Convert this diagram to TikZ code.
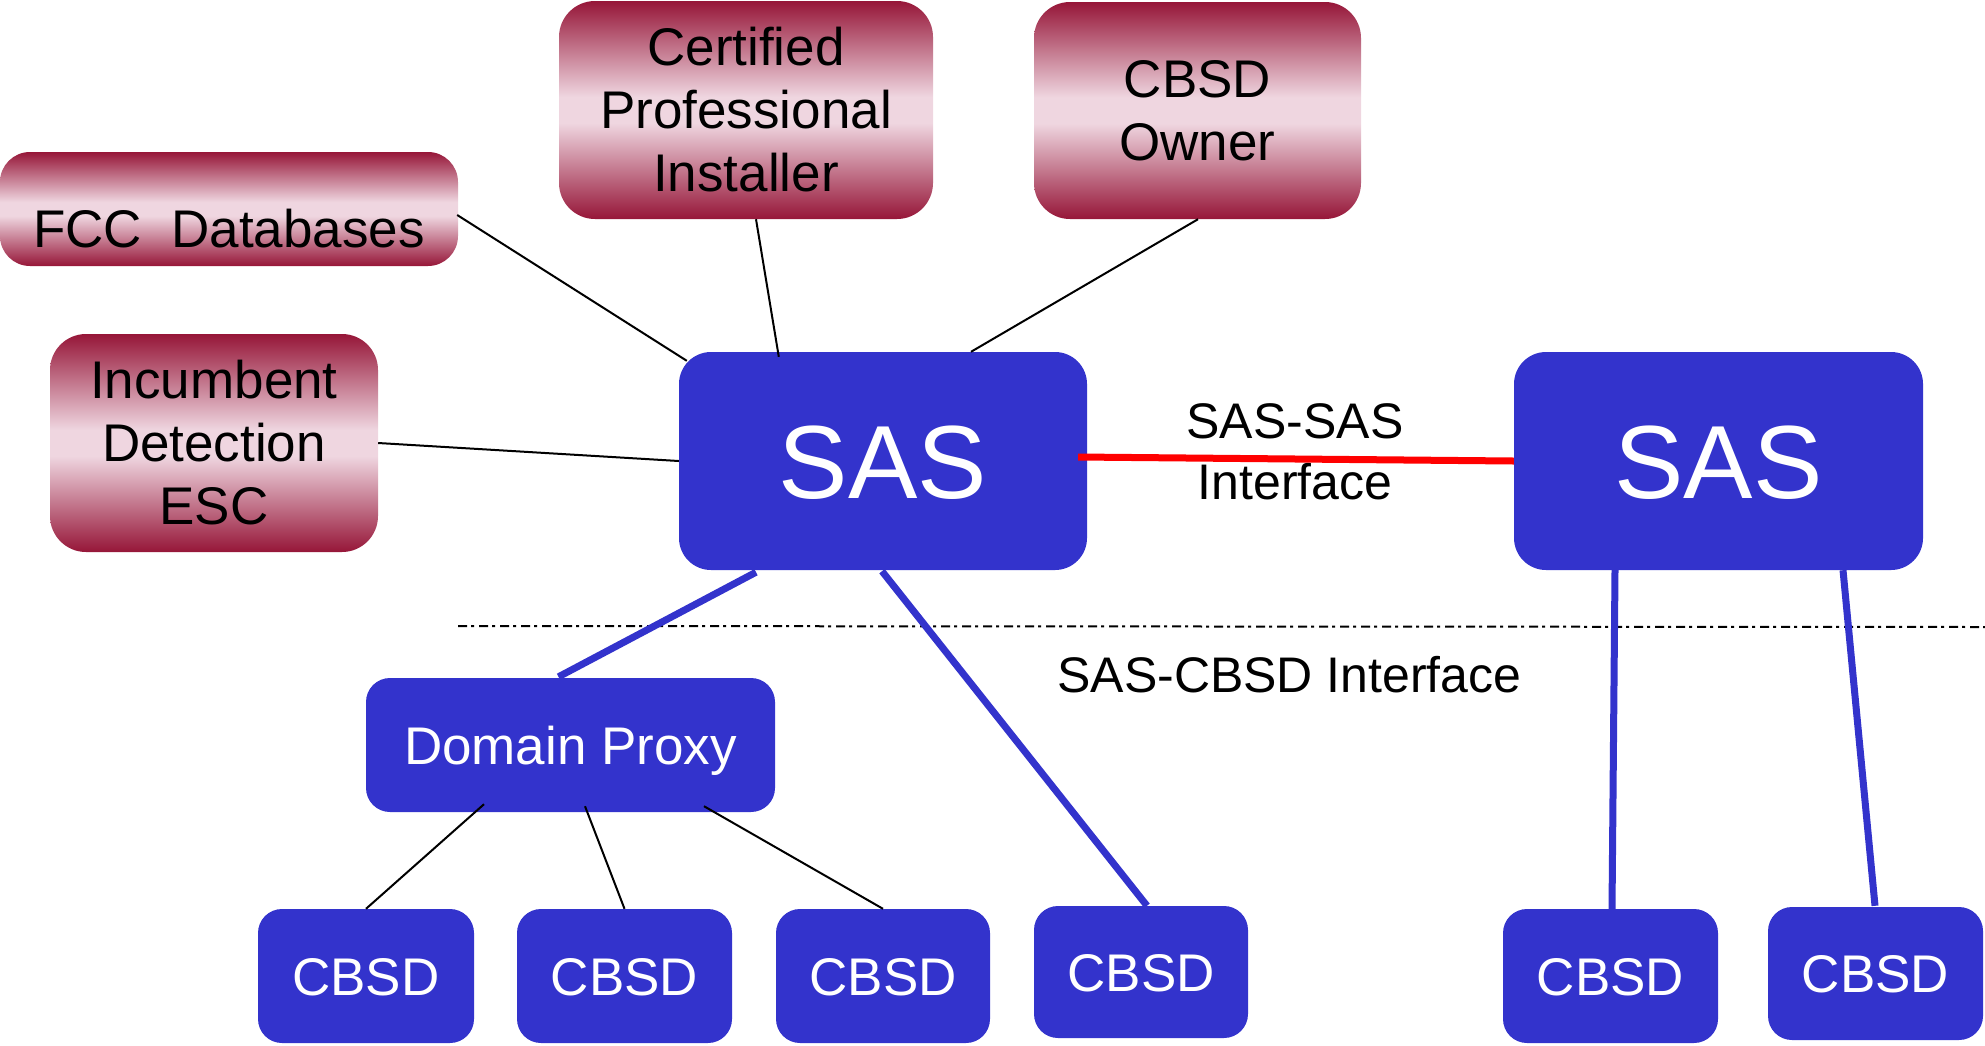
\documentclass[tikz,border=0pt]{standalone}
\usepackage{fontspec}
\setmainfont{Liberation Sans}
\usetikzlibrary{calc}
\definecolor{sasblue}{RGB}{51,51,204}
\definecolor{dkred}{RGB}{150,22,56}
\definecolor{ltpink}{RGB}{239,214,224}
\pgfdeclareverticalshading{redband}{100bp}{color(0bp)=(dkred); color(25bp)=(dkred); color(47bp)=(ltpink); color(53bp)=(ltpink); color(75bp)=(dkred); color(100bp)=(dkred)}
\tikzset{
  redbox/.style={shading=redband, rectangle, rounded corners=30pt, inner sep=0pt,
    align=center, text=black, font=\fontsize{53}{63}\selectfont},
  bluebox/.style={fill=sasblue, rectangle, rounded corners=24pt, inner sep=0pt,
    align=center, text=white, font=\fontsize{53}{63}\selectfont, text height=38pt, text depth=0pt},
  sasbox/.style={bluebox, rounded corners=32pt, font=\fontsize{104}{110}\selectfont, text height=75pt},
  thinlink/.style={draw=black, line width=2pt},
  bluelink/.style={draw=sasblue, line width=7pt},
  redlink/.style={draw=red, line width=7pt},
  divider/.style={draw=black, line width=2pt, dash pattern=on 9pt off 4pt on 3pt off 5pt},
  lbl/.style={inner sep=0pt, align=center, text=black, font=\fontsize{50}{61}\selectfont}
}
\begin{document}
\begin{tikzpicture}[x=1pt, y=-1pt]
\useasboundingbox (0,0) rectangle (1985,1045);
% upper boxes
\node[redbox, minimum width=458pt, minimum height=114pt, text height=76pt, text depth=0pt] (fcc) at (229,209) {FCC\ \ Databases};
\node[redbox, minimum width=374pt, minimum height=218pt, rounded corners=36pt] (cpi) at (746,110) {Certified\\Professional\\Installer};
\node[redbox, minimum width=327pt, minimum height=217pt, rounded corners=36pt] (owner) at (1197.5,110.5) {CBSD\\Owner};
\node[redbox, minimum width=328pt, minimum height=218pt, rounded corners=36pt] (esc) at (214,443) {Incumbent\\Detection\\ESC};
% SAS boxes
\node[sasbox, minimum width=408pt, minimum height=218pt] (sas1) at (883,461) {SAS};
\node[sasbox, minimum width=409pt, minimum height=218pt] (sas2) at (1718.5,461) {SAS};
% domain proxy and CBSDs
\node[bluebox, minimum width=409pt, minimum height=134pt] (dp) at (570.5,745) {Domain Proxy};
\node[bluebox, minimum width=216pt, minimum height=134pt] (c1) at (366,976) {CBSD};
\node[bluebox, minimum width=215pt, minimum height=134pt] (c2) at (624.5,976) {CBSD};
\node[bluebox, minimum width=214pt, minimum height=134pt] (c3) at (883,976) {CBSD};
\node[bluebox, minimum width=214pt, minimum height=132pt] (c4) at (1141,972) {CBSD};
\node[bluebox, minimum width=215pt, minimum height=134pt] (c5) at (1610.5,976) {CBSD};
\node[bluebox, minimum width=215pt, minimum height=133pt] (c6) at (1875.5,973.5) {CBSD};
% labels
\node[lbl] (sassas) at (1295,452) {SAS-SAS\\Interface};
\node[lbl] (sascbsd) at (1289.5,675) {SAS-CBSD Interface};
% divider
\coordinate (dl) at (458,626);
\coordinate (dr) at (1985,627);
\draw[divider] (dl) -- (dr);
% thin connectors
\draw[thinlink] ($(fcc.east)+(-1,6)$) -- ($(sas1.north west)+(8,9)$);
\draw[thinlink] ($(cpi.south)+(10,0)$) -- ($(sas1.north west)+(100,5)$);
\draw[thinlink] ($(owner.south)+(0.5,0)$) -- ($(sas1.north)+(88,0)$);
\draw[thinlink] (esc.east) -- (sas1.west);
\draw[thinlink] ($(dp.south)+(-86.5,-8)$) -- (c1.north);
\draw[thinlink] ($(dp.south)+(14.5,-6)$) -- (c2.north);
\draw[thinlink] ($(dp.south)+(133.5,-6)$) -- (c3.north);
% blue connectors
\draw[bluelink] ($(sas1.south)+(-127,2)$) -- ($(dp.north)+(-12,-1)$);
\draw[bluelink] ($(sas1.south)+(-1,1)$) -- ($(c4.north)+(6,0)$);
\draw[bluelink] ($(sas2.south)+(-103.5,0)$) -- ($(c5.north)+(1.5,0)$);
\draw[bluelink] ($(sas2.south)+(124.5,0)$) -- ($(c6.north)+(-0.5,-1)$);
% SAS-SAS
\draw[redlink] ($(sas1.east)+(-9,-4)$) -- (sas2.west);
\end{tikzpicture}
\end{document}
